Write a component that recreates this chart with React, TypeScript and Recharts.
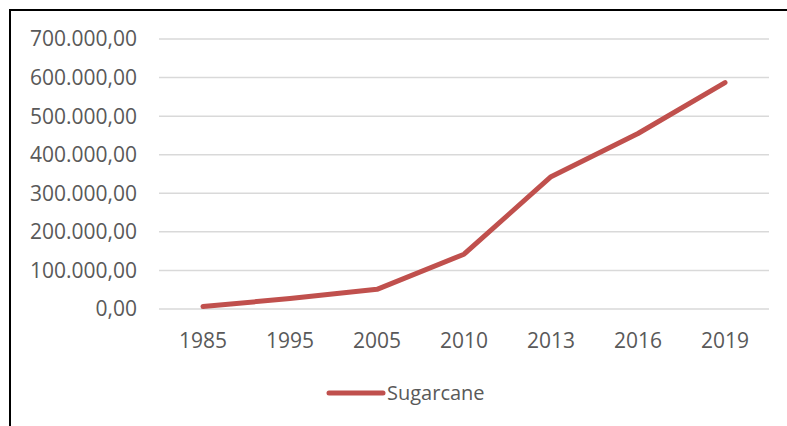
import { CartesianGrid, Legend, Line, LineChart, XAxis, YAxis } from "recharts";

const YEARS = ["1985", "1995", "2005", "2010", "2013", "2016", "2019"];
const SUGARCANE = [6500, 27000, 51000, 142000, 343000, 455000, 587000];
const Y_TICKS = [0, 100000, 200000, 300000, 400000, 500000, 600000, 700000];
const SERIES_NAME = "Sugarcane";

const data = YEARS.map((year, i) => ({ year, sugarcane: SUGARCANE[i] }));

const FONT = "'Open Sans', 'Noto Sans', sans-serif";
const TEXT = "#595959";
const RED = "#C0504D";

// 700000 -> "700.000,00"
function formatValue(v: number) {
  const whole = Math.round(v)
    .toString()
    .replace(/\B(?=(\d{3})+(?!\d))/g, ".");
  return `${whole},00`;
}

function LegendContent() {
  return (
    <div
      style={{
        width: 787,
        height: 36,
        display: "flex",
        alignItems: "center",
        paddingLeft: 326,
        boxSizing: "border-box",
      }}
    >
      <svg width={60} height={10} style={{ display: "block" }}>
        <line
          x1={3}
          y1={5}
          x2={57}
          y2={5}
          stroke={RED}
          strokeWidth={5}
          strokeLinecap="round"
        />
      </svg>
      <span
        style={{
          fontFamily: FONT,
          fontSize: 20,
          color: TEXT,
          marginLeft: 1,
          lineHeight: "36px",
        }}
      >
        {SERIES_NAME}
      </span>
    </div>
  );
}

export default function App() {
  return (
    <div
      style={{
        position: "absolute",
        left: 0,
        top: 0,
        width: 787,
        height: 426,
        background: "#fff",
        overflow: "hidden",
      }}
    >
      <div
        style={{
          position: "absolute",
          left: 9,
          top: 9,
          right: 0,
          bottom: 0,
          borderLeft: "2px solid #000",
          borderTop: "2px solid #000",
        }}
      />
      <div style={{ position: "absolute", left: 0, top: 0 }}>
        <LineChart
          width={787}
          height={426}
          data={data}
          margin={{ top: 39, right: 18, left: 0, bottom: 15 }}
        >
          <CartesianGrid
            vertical={false}
            stroke="#d9d9d9"
            strokeWidth={1.5}
          />
          <XAxis
            dataKey="year"
            axisLine={false}
            tickLine={false}
            tickSize={0}
            tickMargin={24}
            height={66}
            padding={{ left: 44, right: 44 }}
            tick={{ fontFamily: FONT, fontSize: 21, fill: TEXT }}
          />
          <YAxis
            domain={[0, 700000]}
            ticks={Y_TICKS}
            width={159}
            axisLine={false}
            tickLine={false}
            tickSize={0}
            tickMargin={22}
            tickFormatter={formatValue}
            tick={{ fontFamily: FONT, fontSize: 21, fill: TEXT }}
          />
          <Legend
            verticalAlign="bottom"
            height={36}
            content={<LegendContent />}
            wrapperStyle={{ left: 0, width: 787 }}
          />
          <Line
            type="linear"
            dataKey="sugarcane"
            name={SERIES_NAME}
            stroke={RED}
            strokeWidth={5}
            strokeLinecap="round"
            strokeLinejoin="round"
            dot={false}
            activeDot={false}
            isAnimationActive={false}
          />
        </LineChart>
      </div>
    </div>
  );
}
